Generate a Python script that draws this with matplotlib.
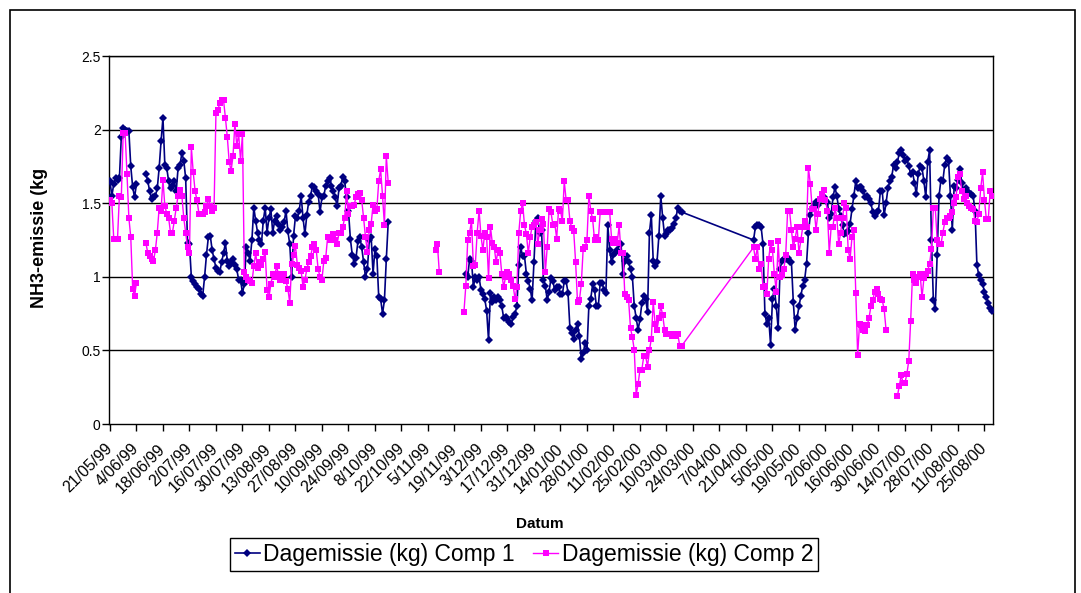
import numpy as np
import matplotlib
matplotlib.use("Agg")
import matplotlib.pyplot as plt
from matplotlib.patches import Rectangle

plt.rcParams['font.family'] = ['Liberation Sans', 'DejaVu Sans']

# ---------------- data ----------------
start_date = np.datetime64('1999-05-21')
# recorded day offsets (rows 303..339 are absent -> line connects across them)
day_offsets = np.r_[0:303, 340:467]

N = None
comp1_a = [1.65, 1.55, 1.63, 1.67, 1.66, 1.67, 1.95, 2.01, 2.00, 1.99, 1.99, 1.75, 1.61, 1.54, 1.63,
           N, N, N, N,
           1.70, 1.65, 1.58, 1.53, 1.54, 1.55, 1.60, 1.74, 1.92, 2.08, 1.76, 1.74, 1.65, 1.60, 1.62,
           1.65, 1.58, 1.74, 1.76, 1.84, 1.79, 1.67, 1.23, 1.22, 1.00, 0.97, 0.95, 0.93, 0.92, 0.88,
           0.87, 1.00, 1.15, 1.27, 1.28, 1.18, 1.12, 1.06, 1.04, 1.03, 1.10, 1.16, 1.23, 1.11, 1.07,
           1.10, 1.12, 1.08, 1.05, 0.98, 0.98, 0.89, 0.95, 1.20, 1.16, 1.11, 1.25, 1.47, 1.38, 1.30,
           1.25, 1.22, 1.38, 1.47, 1.30, 1.40, 1.46, 1.30, 1.38, 1.41, 1.36, 1.32, 1.34, 1.37, 1.45,
           1.31, 1.22, 1.00, 1.28, 1.41, 1.40, 1.45, 1.55, 1.40, 1.29, 1.42, 1.51, 1.55, 1.62, 1.61,
           1.58, 1.56, 1.44, 1.54, 1.55, 1.62, 1.65, 1.67, 1.62, 1.58, 1.54, 1.48, 1.60, 1.62, 1.68,
           1.65, 1.54, 1.45, 1.26, 1.15, 1.09, 1.13, 1.24, 1.27, 1.20, 1.10, 1.00, 1.05, 1.25, 1.27,
           1.02, 1.19, 1.14, 0.86, 0.85, 0.75, 0.84, 1.12, 1.37]
comp1_gap = [N] * 40
comp1_b = [1.02, 1.00, 1.12, 1.11, 0.93, 1.00, 0.98, 1.00, 0.91, 0.88, 0.85, 0.77, 0.57, 0.89, 0.83,
           0.86, 0.84, 0.86, 0.84, 0.80, 0.72, 0.73, 0.71, 0.69, 0.68, 0.73, 0.75, 0.80, 1.08, 1.20,
           1.14, 1.14, 1.02, 0.97, 0.92, 0.84, 1.10, 1.38, 1.40, 1.30, 1.32, 0.98, 0.94, 0.84, 0.90,
           0.99, 0.97, 0.91, 0.93, 0.93, 0.88, 0.88, 0.97, 0.97, 0.89, 0.65, 0.62, 0.58, 0.64, 0.68,
           0.60, 0.44, 0.48, 0.55, 0.50, 0.80, 0.85, 0.95, 0.91, 0.80, 0.80, 0.96, 0.96, 0.91, 0.89,
           1.35, 1.18, 1.10, 1.15, 1.16, 1.18, 1.22, 1.22, 1.02, 1.11, 1.14, 1.10, 1.05, 1.00, 0.80,
           0.72, 0.64, 0.71, 0.82, 0.87, 0.85, 0.76, 1.30, 1.42, 1.11, 1.07, 1.10, 1.28, 1.55, 1.40,
           1.28, 1.29, 1.32, 1.32, 1.33, 1.36, 1.40, 1.47, 1.45, 1.44]
comp1_c = [1.25, 1.34, 1.35, 1.35, 1.34, 1.22, 0.75, 0.68, 0.72, 0.54, 0.85, 0.92, 0.80, 0.65, 1.05,
           1.11, 1.12, 1.12, 1.13, 1.10, 1.10, 0.83, 0.64, 0.72, 0.80, 0.87, 0.94, 0.98, 1.09, 1.30,
           1.42, 1.46, 1.48, 1.51, 1.49, 1.53, 1.53, 1.54, 1.52, 1.51, 1.40, 1.43, 1.54, 1.61, 1.55,
           1.46, 1.41, 1.35, 1.29, 1.30, 1.31, 1.36, 1.46, 1.55, 1.65, 1.60, 1.61, 1.61, 1.58, 1.54,
           1.55, 1.53, 1.50, 1.44, 1.41, 1.44, 1.45, 1.58, 1.58, 1.42, 1.50, 1.60, 1.65, 1.68, 1.76,
           1.74, 1.78, 1.84, 1.86, 1.83, 1.79, 1.80, 1.75, 1.70, 1.71, 1.64, 1.56, 1.70, 1.75, 1.74,
           1.65, 1.54, 1.78, 1.86, 1.25, 0.84, 0.78, 1.15, 1.55, 1.66, 1.65, 1.76, 1.81, 1.79, 1.55,
           1.32, 1.62, 1.60, 1.66, 1.73, 1.64, 1.58, 1.60, 1.58, 1.57, 1.56, 1.55, 1.45, 1.08, 1.01,
           0.98, 0.95, 0.90, 0.86, 0.82, 0.79, 0.77]

comp2_a = [1.52, 1.50, 1.26, 1.26, 1.26, 1.55, 1.54, 1.98, 1.98, 1.70, 1.40, 1.27, 0.92, 0.87, 0.96,
           N, N, N, N,
           1.23, 1.16, 1.14, 1.12, 1.11, 1.18, 1.30, 1.47, 1.45, 1.66, 1.48, 1.43, 1.40, 1.30, 1.30,
           1.38, 1.47, 1.55, 1.59, 1.55, 1.40, 1.30, 1.20, 1.16, 1.88, 1.71, 1.58, 1.52, 1.43, 1.43,
           1.43, 1.44, 1.48, 1.53, 1.48, 1.45, 1.47, 2.11, 2.13, 2.18, 2.20, 2.20, 2.08, 1.95, 1.78,
           1.72, 1.82, 2.04, 1.89, 1.97, 1.79, 1.97, 1.03, 1.00, 0.98, 0.97, 0.96, 1.07, 1.16, 1.06,
           1.10, 1.08, 1.12, 1.17, 0.91, 0.86, 0.95, 1.02, 1.00, 1.07, 1.02, 0.98, 1.00, 1.02, 0.97,
           0.92, 0.82, 1.09, 1.15, 1.21, 1.08, 1.06, 1.04, 0.93, 0.98, 1.05, 1.10, 1.14, 1.20, 1.22,
           1.18, 1.05, 1.00, 0.98, 1.11, 1.13, 1.27, 1.25, 1.26, 1.29, 1.25, 1.22, 1.30, 1.30, 1.34,
           1.40, 1.58, 1.43, 1.48, 1.48, 1.49, 1.54, 1.56, 1.57, 1.52, 1.40, 1.27, 1.17, 1.32, 1.36,
           1.49, 1.45, 1.46, 1.65, 1.73, 1.55, 1.35, 1.82, 1.64]
comp2_gap1 = [N] * 24
comp2_nov = [1.18, 1.22, 1.03]
comp2_gap2 = [N] * 12
comp2_b = [0.76, 0.94, 1.25, 1.30, 1.38, 1.07, 1.08, 1.30, 1.45, 1.28, 1.18, 1.30, 1.27, 0.99, 1.34,
           1.23, 1.20, 1.10, 1.18, 1.16, 1.02, 0.93, 1.00, 1.03, 1.02, 0.98, 0.94, 0.85, 0.93, 1.30,
           1.45, 1.50, 1.35, 1.29, 1.16, 1.27, 1.34, 1.35, 1.37, 1.22, 1.32, 1.39, 1.36, 1.03, 1.20,
           1.46, 1.44, 1.35, 1.36, 1.26, 1.46, 1.45, 1.38, 1.65, 1.52, 1.52, 1.38, 1.33, 1.31, 1.10,
           0.83, 0.84, 0.95, 1.19, 1.20, 1.25, 1.55, 1.45, 1.39, 1.25, 1.27, 1.25, 1.44, 1.44, 1.44,
           1.44, 1.44, 1.44, 1.26, 1.23, 1.26, 1.23, 1.35, 1.16, 1.16, 0.88, 0.86, 0.84, 0.65, 0.59,
           0.50, 0.20, 0.27, 0.37, 0.37, 0.46, 0.46, 0.39, 0.50, 0.58, 0.83, 0.68, 0.64, 0.72, 0.80,
           0.74, 0.64, 0.61, 0.61, 0.61, 0.60, 0.61, 0.60, 0.61, 0.53, 0.53]
comp2_c = [1.20, 1.12, 1.20, 1.05, 1.09, 0.93, 0.94, 0.88, 1.12, 1.23, 1.18, 1.02, 0.90, 1.24, 1.00,
           1.01, 1.05, 1.15, 1.45, 1.45, 1.32, 1.20, 1.26, 1.34, 1.16, 1.25, 1.34, 1.38, 1.34, 1.74,
           1.63, 1.46, 1.46, 1.32, 1.43, 1.53, 1.56, 1.59, 1.52, 1.45, 1.16, 1.34, 1.34, 1.47, 1.40,
           1.22, 1.30, 1.40, 1.50, 1.47, 1.18, 1.12, 1.27, 1.32, 0.89, 0.47, 0.68, 0.67, 0.64, 0.63,
           0.67, 0.72, 0.80, 0.84, 0.90, 0.92, 0.88, 0.85, 0.84, 0.78, 0.64,
           N, N, N, N, N,
           0.19, 0.26, 0.33, 0.28, 0.28, 0.34, 0.43, 0.70, 1.02, 0.98, 0.96, 1.00, 1.02, 0.86, 0.99,
           1.02, 1.04, 1.09, 1.19, 1.47, 1.47, 1.25, 1.22, 1.22, 1.30, 1.37, 1.40, 1.40, 1.41, 1.44,
           1.50, 1.54, 1.68, 1.70, 1.58, 1.53, 1.55, 1.50, 1.48, 1.47, 1.46, 1.38, 1.37, 1.43, 1.60,
           1.71, 1.52, 1.39, 1.39, 1.58, 1.55]

comp1 = comp1_a + comp1_gap + comp1_b + comp1_c
comp2 = comp2_a + comp2_gap1 + comp2_nov + comp2_gap2 + comp2_b + comp2_c

tick_labels = ['21/05/99', '4/06/99', '18/06/99', '2/07/99', '16/07/99', '30/07/99', '13/08/99',
               '27/08/99', '10/09/99', '24/09/99', '8/10/99', '22/10/99', '5/11/99', '19/11/99',
               '3/12/99', '17/12/99', '31/12/99', '14/01/00', '28/01/00', '11/02/00', '25/02/00',
               '10/03/00', '24/03/00', '7/04/00', '21/04/00', '5/05/00', '19/05/00', '2/06/00',
               '16/06/00', '30/06/00', '14/07/00', '28/07/00', '11/08/00', '25/08/00']
y_ticks = [0, 0.5, 1, 1.5, 2, 2.5]
y_tick_labels = ['0', '0.5', '1', '1.5', '2', '2.5']
series_names = ['Dagemissie (kg) Comp 1', 'Dagemissie (kg) Comp 2']

# ---------------- build ----------------
dates = start_date + day_offsets.astype('timedelta64[D]')
v1 = np.array([np.nan if v is None else v for v in comp1], dtype=float)
v2 = np.array([np.nan if v is None else v for v in comp2], dtype=float)
tick_dates = start_date + (np.arange(len(tick_labels)) * 14).astype('timedelta64[D]')

W, H = 1081, 593
fig = plt.figure(figsize=(W / 100, H / 100), dpi=100)
fig.patch.set_facecolor('white')

# outer chart border
fig.add_artist(Rectangle((10 / W, -0.05), (1075 - 10) / W, 1 - 10 / H + 0.05,
                         transform=fig.transFigure, fill=False, edgecolor='black', lw=1.2))

ax = fig.add_axes([109 / W, 1 - 424 / H, 884 / W, 368 / H])
ax.set_facecolor('white')

ax.plot(dates, v1, color='#000080', lw=1.2, marker='D', markersize=4,
        markeredgewidth=0, label=series_names[0], zorder=3)
ax.plot(dates, v2, color='#FF00FF', lw=1.0, marker='s', markersize=4.6,
        markeredgewidth=0, label=series_names[1], zorder=4)

ax.set_ylim(0, 2.5)
ax.set_yticks(y_ticks)
ax.set_yticklabels(y_tick_labels, fontsize=10)
ax.set_xlim(start_date - np.timedelta64(12, 'h'), dates[-1] + np.timedelta64(12, 'h'))
ax.set_xticks(tick_dates)
ax.set_xticklabels(tick_labels, fontsize=11.5, rotation=45, ha='right', va='center',
                   rotation_mode='anchor')

for y in y_ticks[1:]:
    ax.axhline(y, color='black', lw=1.0, zorder=1)
for s in ax.spines.values():
    s.set_color('black')
    s.set_linewidth(1.0)
ax.tick_params(axis='both', direction='out', length=5, width=1, color='black')
ax.tick_params(axis='x', pad=11)
ax.tick_params(axis='y', pad=1)

fig.text(540 / W, 1 - 524 / H, 'Datum', ha='center', va='center',
         fontsize=11, fontweight='bold')
fig.text(40 / W, 1 - 238 / H, 'NH3-emissie (kg', ha='center', va='center',
         rotation=90, fontsize=13, fontweight='bold')

leg = fig.legend(loc='center', bbox_to_anchor=(524 / W, 1 - 554.5 / H), ncol=2,
                 fontsize=16.5, frameon=True, fancybox=False, shadow=False,
                 borderpad=0.2, handlelength=1.1, handletextpad=0.15,
                 columnspacing=0.8, borderaxespad=0)
leg.get_frame().set_edgecolor('black')
leg.get_frame().set_linewidth(1.0)
leg.get_frame().set_alpha(1)

fig.savefig('out.png', dpi=100, facecolor='white')
